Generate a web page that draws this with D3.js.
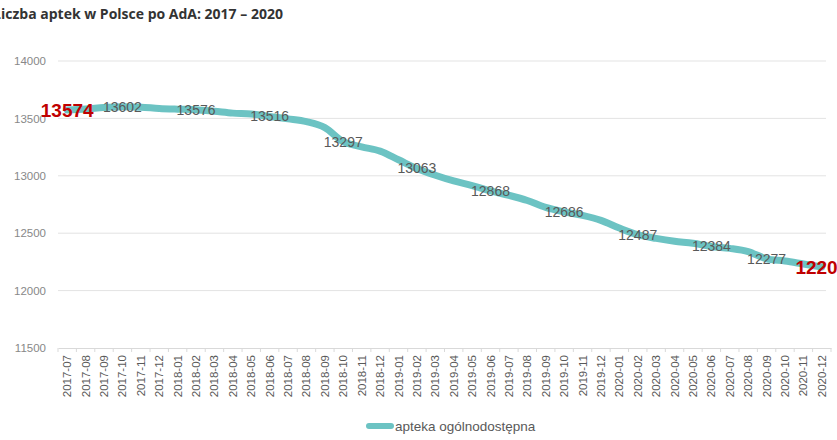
<!DOCTYPE html>
<html><head><meta charset="utf-8">
<script src="https://cdn.jsdelivr.net/npm/d3@7/dist/d3.min.js"></script>
<style>body{margin:0;background:#fff}svg{display:block}</style>
</head><body>
<svg id="c" width="837" height="440"></svg>
<script>
const title = "Liczba aptek w Polsce po AdA: 2017 – 2020";
const seriesName = "apteka ogólnodostępna";
const months = ["2017-07","2017-08","2017-09","2017-10","2017-11","2017-12",
"2018-01","2018-02","2018-03","2018-04","2018-05","2018-06","2018-07","2018-08","2018-09","2018-10","2018-11","2018-12",
"2019-01","2019-02","2019-03","2019-04","2019-05","2019-06","2019-07","2019-08","2019-09","2019-10","2019-11","2019-12",
"2020-01","2020-02","2020-03","2020-04","2020-05","2020-06","2020-07","2020-08","2020-09","2020-10","2020-11","2020-12"];
const values = [13574,13582,13594,13602,13598,13586,13580,13576,13562,13546,13538,13516,
13496,13472,13420,13297,13252,13215,13140,13063,13005,12955,12915,12868,12830,12785,12725,12686,
12655,12612,12545,12487,12455,12430,12412,12384,12368,12340,12277,12258,12232,12206];
const labelIdx = [3,7,11,15,19,23,27,31,35,38];
const highlightIdx = [0,41];
const yTicks = [11500,12000,12500,13000,13500,14000];

const svg = d3.select("#c");
const x = d3.scaleBand().domain(months).range([58,831]);
const y = d3.scaleLinear().domain([11500,14000]).range([348,61]);
const cx = d => x(d) + x.bandwidth()/2;

// title
const tfont = "Open Sans, sans-serif", tsize = 14;
const t = svg.append("text").attr("y",19).attr("font-family",tfont)
  .attr("font-weight","bold").attr("font-size",tsize).attr("fill","#333").text(title);
const tmp = svg.append("text").attr("font-family",tfont).attr("font-weight","bold").attr("font-size",tsize).text("L");
const lw = tmp.node().getComputedTextLength(); tmp.remove();
t.attr("x", -lw + 1);

// grid
svg.append("g").selectAll("line").data(yTicks.slice(1)).join("line")
  .attr("x1",58).attr("x2",826).attr("y1",d=>y(d)).attr("y2",d=>y(d))
  .attr("stroke","#e3e3e3").attr("stroke-width",1);

// y axis labels
const ya = svg.append("g").attr("transform","translate(46,0)")
  .call(d3.axisLeft(y).tickValues(yTicks).tickFormat(d3.format("d")).tickSize(0).tickPadding(0));
ya.select(".domain").remove();
ya.selectAll("text").attr("font-family","Liberation Sans, sans-serif").attr("font-size",11.5).attr("fill","#888");

// x axis
const xa = svg.append("g").attr("transform","translate(0,348)")
  .call(d3.axisBottom(x).tickSize(0).tickPadding(0));
xa.select(".domain").attr("stroke","#d9d9d9");
xa.selectAll("text").attr("font-family","Liberation Sans Narrow, Liberation Sans, sans-serif")
  .attr("font-size",11.5).attr("fill","#595959")
  .attr("text-anchor","end").attr("transform","rotate(-90)")
  .attr("x",-7).attr("y",0).attr("dy","0.35em");
xa.selectAll(".tick").attr("transform",d=>`translate(${cx(d)},0)`);
svg.append("g").selectAll("line").data(months.concat(["end"])).join("line")
  .attr("x1",(d,i)=>x.range()[0]+i*x.step()).attr("x2",(d,i)=>x.range()[0]+i*x.step())
  .attr("y1",348).attr("y2",352).attr("stroke","#d9d9d9");

// line
const line = d3.line().x((d,i)=>cx(months[i])).y(d=>y(d)).curve(d3.curveMonotoneX);
svg.append("path").datum(values).attr("d",line).attr("fill","none")
  .attr("stroke","#6cc3c3").attr("stroke-width",7).attr("stroke-linejoin","round").attr("stroke-linecap","round");

// labels
svg.append("g").selectAll("text").data(labelIdx).join("text")
  .attr("x",i=>cx(months[i])).attr("y",i=>y(values[i])).attr("dy","0.35em")
  .attr("text-anchor","middle").attr("font-family","Liberation Sans, sans-serif")
  .attr("font-size",14).attr("fill","#595959").text(i=>values[i]);
svg.append("g").selectAll("text").data(highlightIdx).join("text")
  .attr("x",i=>cx(months[i])).attr("y",i=>y(values[i])).attr("dy","0.35em")
  .attr("text-anchor","middle").attr("font-family","Liberation Sans, sans-serif")
  .attr("font-weight","bold").attr("font-size",19).attr("fill","#c00000").text(i=>values[i]);

// legend
svg.append("line").attr("x1",369).attr("x2",391).attr("y1",426).attr("y2",426)
  .attr("stroke","#6cc3c3").attr("stroke-width",6).attr("stroke-linecap","round");
svg.append("text").attr("x",395).attr("y",426).attr("dy","0.35em")
  .attr("font-family","Liberation Sans, sans-serif").attr("font-size",13.5).attr("fill","#595959").text(seriesName);
</script>
</body></html>
